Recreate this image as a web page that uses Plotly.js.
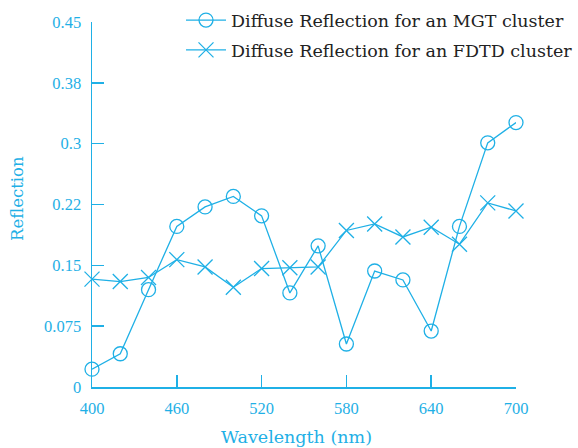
<!DOCTYPE html>
<html><head><meta charset="utf-8">
<script src="https://cdn.plot.ly/plotly-3.0.1.min.js"></script>
<style>body{margin:0;background:#fff}#c{width:578px;height:448px}</style>
</head><body><div id="c"></div>
<script>
var wavelength = [400,420,440,460,480,500,520,540,560,580,600,620,640,660,680,700];
var mgt = [0.022,0.041,0.120,0.198,0.222,0.235,0.211,0.116,0.174,0.053,0.143,0.132,0.069,0.198,0.301,0.326];
var fdtd = [0.133,0.130,0.135,0.157,0.148,0.123,0.146,0.147,0.148,0.193,0.201,0.185,0.197,0.176,0.227,0.217];
var yTickVals = [0,0.075,0.15,0.225,0.3,0.375,0.45];
var yTickText = ["0","0.075","0.15","0.22","0.3","0.38","0.45"];
var xTickVals = [400,460,520,580,640,700];
var seriesNames = ["Diffuse Reflection for an MGT cluster","Diffuse Reflection for an FDTD cluster"];
var xTitle = "Wavelength (nm)";
var yTitle = "Reflection";
var C = "#1fb0e6";
var F = "Liberation Serif, serif";
var FD = "DejaVu Serif, serif";
var W = 578, H = 448;
var traces = [
 {x:wavelength,y:mgt,name:seriesNames[0],legendgroup:"a",mode:"lines+markers",type:"scatter",cliponaxis:false,
  line:{color:C,width:1.3},marker:{symbol:"circle-open",size:14,color:C,line:{width:1.3,color:C}}},
 {x:wavelength,y:fdtd,name:seriesNames[1],legendgroup:"b",mode:"lines+markers",type:"scatter",cliponaxis:false,
  line:{color:C,width:1.3},marker:{symbol:"x-thin-open",size:15,color:C,line:{width:1.3,color:C}}}
];
var layout = {
 width:W,height:H,paper_bgcolor:"#fff",plot_bgcolor:"#fff",
 margin:{l:0,r:0,t:0,b:0,pad:0},
 font:{family:F,color:C,size:16},
 showlegend:true,
 legend:{x:1,xanchor:"right",y:0.995,yanchor:"top",bgcolor:"rgba(0,0,0,0)",
   font:{family:FD,size:17.5,color:"#222"},tracegroupgap:4,itemwidth:40},
 xaxis:{domain:[92/W,516/W],range:[400,700],tickvals:xTickVals,ticks:"inside",ticklen:12,tickcolor:C,tickwidth:1.5,
   showline:true,linecolor:C,linewidth:1.5,showgrid:false,zeroline:false,ticklabelstandoff:6,
   tickfont:{family:F,size:16.5,color:C}},
 yaxis:{domain:[61/H,1-22/H],range:[0,0.45],tickvals:yTickVals,ticktext:yTickText,ticks:"inside",ticklen:12,tickcolor:C,tickwidth:1.5,
   showline:true,linecolor:C,linewidth:1.5,showgrid:false,zeroline:false,ticklabelstandoff:6,
   tickfont:{family:F,size:16.5,color:C}},
 annotations:[
  {text:xTitle,xref:"paper",yref:"paper",x:296/W,y:1-437/H,xanchor:"center",yanchor:"middle",showarrow:false,
   font:{family:FD,size:17.5,color:C}},
  {text:yTitle,xref:"paper",yref:"paper",x:17/W,y:1-199/H,xanchor:"center",yanchor:"middle",showarrow:false,textangle:-90,
   font:{family:FD,size:16.5,color:C}}
 ]
};
Plotly.newPlot("c",traces,layout,{displayModeBar:false,staticPlot:true});
</script></body></html>
